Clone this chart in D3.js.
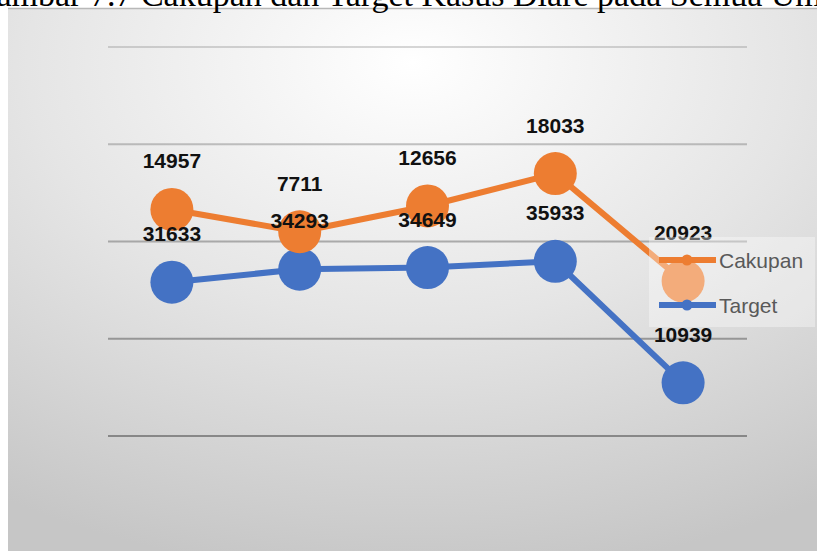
<!DOCTYPE html>
<html>
<head>
<meta charset="utf-8">
<script src="https://cdn.jsdelivr.net/npm/d3@7"></script>
<style>
  body { margin: 0; background: #fff; }
  svg { display: block; }
</style>
</head>
<body>
<div id="chart"></div>
<script>
// data
var categories = ["1", "2", "3", "4", "5"];
var target = [31633, 34293, 34649, 35933, 10939];
var cakupan = [14957, 7711, 12656, 18033, 20923];
var yTicks = [0, 20000, 40000, 60000, 80000];
var titleText = "Gambar 7.7 Cakupan dan Target Kasus Diare pada Semua Umur";

var W = 817, H = 551;
var margin = {top: 47, right: 70, bottom: 115, left: 108};

var svg = d3.select("#chart").append("svg")
  .attr("width", W)
  .attr("height", H);

// background gradient
var defs = svg.append("defs");
var grad = defs.append("radialGradient")
  .attr("id", "bg")
  .attr("cx", "50%").attr("cy", "10%").attr("r", "95%");
grad.append("stop").attr("offset", "0%").attr("stop-color", "#ffffff");
grad.append("stop").attr("offset", "50%").attr("stop-color", "#e5e5e5");
grad.append("stop").attr("offset", "100%").attr("stop-color", "#c6c6c6");

svg.append("rect")
  .attr("x", 8).attr("y", 8)
  .attr("width", W - 8).attr("height", H - 8)
  .attr("fill", "url(#bg)");
svg.append("line")
  .attr("x1", 8).attr("x2", W).attr("y1", 8.5).attr("y2", 8.5)
  .attr("stroke", "#b8b8b8").attr("stroke-width", 1.5);

// title (cut off at top edge, as in the source)
svg.append("text")
  .attr("x", 411).attr("y", 6)
  .attr("text-anchor", "middle")
  .attr("font-family", "Liberation Serif, Times New Roman, serif")
  .attr("font-size", 34)
  .attr("fill", "#000")
  .text(titleText);

// scales
var x = d3.scaleBand()
  .domain(categories)
  .range([margin.left, W - margin.right]);
var y = d3.scaleLinear()
  .domain([0, 80000])
  .range([H - margin.bottom, margin.top]);
var gridOpacity = d3.scaleLinear().domain([80000, 0]).range([0.3, 0.85]);

// gridlines
svg.append("g").selectAll("line")
  .data(yTicks)
  .enter().append("line")
  .attr("x1", margin.left)
  .attr("x2", W - margin.right)
  .attr("y1", function(d) { return y(d); })
  .attr("y2", function(d) { return y(d); })
  .attr("stroke", "#7a7a7a")
  .attr("stroke-opacity", function(d) { return gridOpacity(d); })
  .attr("stroke-width", 2);

// stacked values
var rows = categories.map(function(c, i) {
  return {cat: c, target: target[i], cakupan: cakupan[i]};
});
var stacked = d3.stack().keys(["target", "cakupan"])(rows);

var colors = {target: "#4472c4", cakupan: "#ed7d31"};
var cx = function(d) { return x(d.data.cat) + x.bandwidth() / 2; };

var line = d3.line()
  .x(cx)
  .y(function(d) { return y(d[1]); });

stacked.forEach(function(s) {
  var g = svg.append("g");
  g.append("path")
    .datum(s)
    .attr("d", line)
    .attr("fill", "none")
    .attr("stroke", colors[s.key])
    .attr("stroke-width", 6)
    .attr("stroke-linejoin", "round");
  g.selectAll("circle")
    .data(s)
    .enter().append("circle")
    .attr("cx", cx)
    .attr("cy", function(d) { return y(d[1]); })
    .attr("r", 21.5)
    .attr("fill", colors[s.key]);
});

// data labels
stacked.forEach(function(s) {
  svg.append("g").selectAll("text")
    .data(s)
    .enter().append("text")
    .attr("x", cx)
    .attr("y", function(d) { return y(d[1]) - 41; })
    .attr("text-anchor", "middle")
    .attr("font-family", "Liberation Sans, Arial, sans-serif")
    .attr("font-weight", "bold")
    .attr("font-size", 21)
    .attr("fill", "#111")
    .text(function(d) { return d.data[s.key]; });
});

// legend
var legend = svg.append("g");
legend.append("rect")
  .attr("x", 649).attr("y", 237)
  .attr("width", 166).attr("height", 90)
  .attr("fill", "#fff").attr("fill-opacity", 0.36);

var legendItems = [
  {key: "cakupan", label: "Cakupan"},
  {key: "target", label: "Target"}
];
legendItems.forEach(function(item, i) {
  var ly = 260 + i * 45;
  legend.append("line")
    .attr("x1", 659).attr("x2", 716)
    .attr("y1", ly).attr("y2", ly)
    .attr("stroke", colors[item.key])
    .attr("stroke-width", 6);
  legend.append("circle")
    .attr("cx", 687).attr("cy", ly).attr("r", 5.5)
    .attr("fill", colors[item.key]);
  legend.append("text")
    .attr("x", 719).attr("y", ly + 8)
    .attr("font-family", "Liberation Sans, Arial, sans-serif")
    .attr("font-size", 21)
    .attr("fill", "#595959")
    .text(item.label);
});
</script>
</body>
</html>
